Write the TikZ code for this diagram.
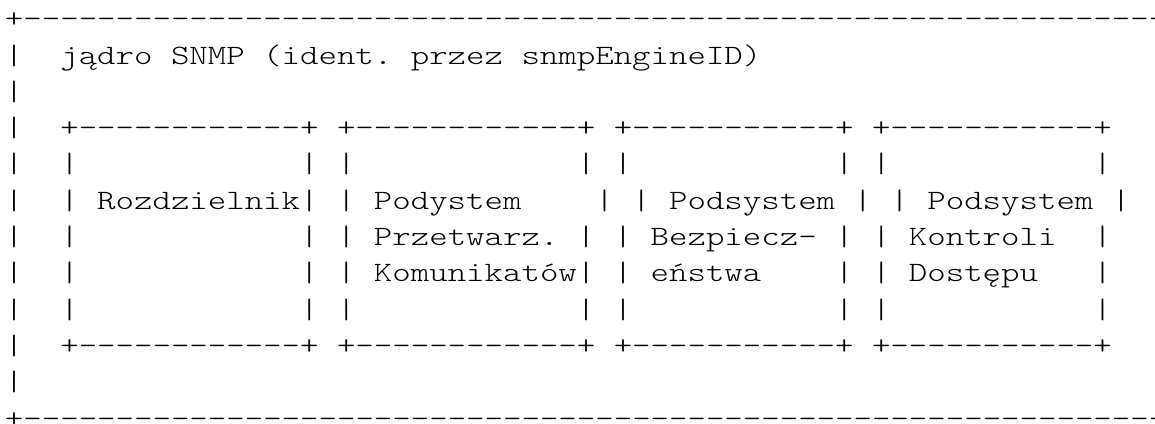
\documentclass[tikz,border=0pt]{standalone}
\usepackage{fontspec}
\setmonofont{lmmonolt10-regular.otf}[FakeStretch=1.255]
\usepackage{tikz}

\begin{document}
\begin{tikzpicture}[x=1pt,y=-1pt,
    asciirow/.style={anchor=base west,inner sep=0pt,font=\ttfamily\fontsize{28}{34}\selectfont}]
  \useasboundingbox (0,0) rectangle (1155,423);
  % one row of the engine box every 36.3
  \node[asciirow] (r0)  at (4.8,27.7)  {+--------------------------------------------------------------};
  \node[asciirow] (r1)  at (4.8,64.0)  {|~~jądro~SNMP~(ident.~przez~snmpEngineID)};
  \node[asciirow] (r2)  at (4.8,100.3) {|};
  \node[asciirow] (r3)  at (4.8,136.6) {|~~+------------+~+------------+~+-----------+~+-----------+};
  \node[asciirow] (r4)  at (4.8,172.9) {|~~|~~~~~~~~~~~~|~|~~~~~~~~~~~~|~|~~~~~~~~~~~|~|~~~~~~~~~~~|};
  \node[asciirow] (r5)  at (4.8,209.2) {|~~|~Rozdzielnik|~|~Podystem~~~~|~|~Podsystem~|~|~Podsystem~|};
  \node[asciirow] (r6)  at (4.8,245.5) {|~~|~~~~~~~~~~~~|~|~Przetwarz.~|~|~Bezpiecz-~|~|~Kontroli~~|};
  \node[asciirow] (r7)  at (4.8,281.8) {|~~|~~~~~~~~~~~~|~|~Komunikatów|~|~eństwa~~~~|~|~Dostępu~~~|};
  \node[asciirow] (r8)  at (4.8,318.1) {|~~|~~~~~~~~~~~~|~|~~~~~~~~~~~~|~|~~~~~~~~~~~|~|~~~~~~~~~~~|};
  \node[asciirow] (r9)  at (4.8,354.4) {|~~+------------+~+------------+~+-----------+~+-----------+};
  \node[asciirow] (r10) at (4.8,390.7) {|};
  \node[asciirow] (r11) at (4.8,427.0) {+--------------------------------------------------------------};
\end{tikzpicture}
\end{document}
